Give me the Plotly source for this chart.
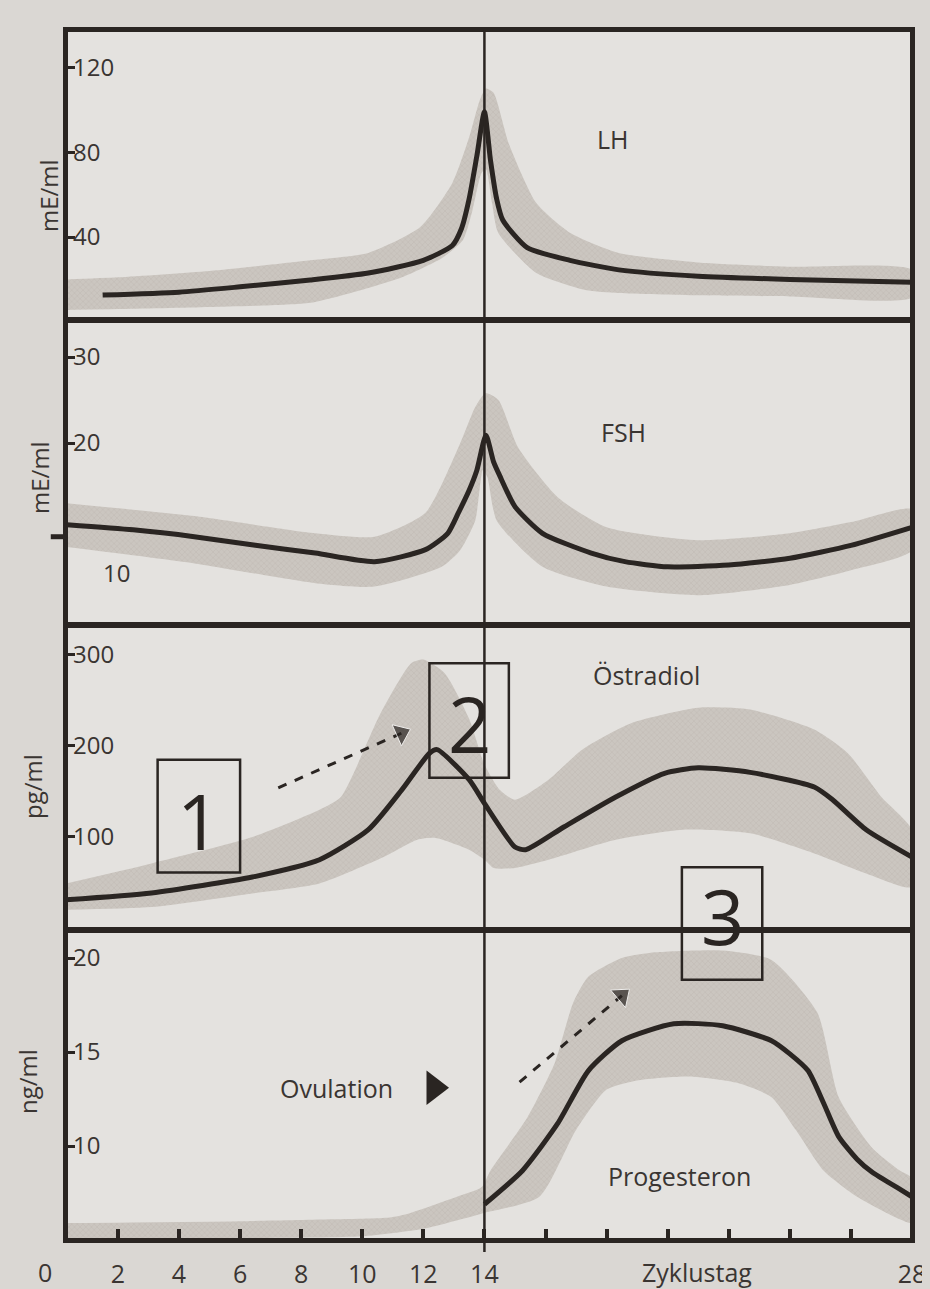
import plotly.graph_objects as go
from plotly.subplots import make_subplots

# ---------------- data (cycle day, hormone level) ----------------
# LH (mE/ml)
lh_days = [1.5, 4, 6, 8.3, 10.2, 12, 12.95, 13.25, 13.5, 13.75, 14.0, 14.2, 14.4, 14.6, 15.4, 16.8, 18.4, 21, 24, 28]
lh_vals = [12.6, 14, 16.5, 19.7, 23, 29, 36, 44, 58, 78, 99, 76, 58, 48, 35, 29, 24.5, 21.5, 20, 18.7]
lh_up_days = [0.3, 2, 5, 8.3, 10.2, 11.9, 12.95, 13.5, 13.85, 14.05, 14.3, 14.8, 15.7, 16.8, 18.4, 21, 24, 28]
lh_up_vals = [20, 21, 24, 29, 32.5, 44.7, 65.5, 87, 104.6, 110, 108, 84, 56, 42, 32.5, 28, 26, 24.5]
lh_lo_days = [0.3, 2, 5, 8.3, 10.2, 11.3, 12.6, 13.3, 13.6, 13.9, 14.05, 14.25, 14.45, 15.7, 17.3, 18.4, 21, 24, 28]
lh_lo_vals = [5.6, 6, 7, 9, 16, 21, 30, 38.6, 52, 70, 72, 56, 42, 23, 15, 13.6, 12.5, 12, 11.5]

# FSH (mE/ml)
fsh_days = [0.33, 2.5, 4.5, 6.5, 8.46, 10.4, 12.07, 12.8, 13.15, 13.5, 13.75, 14.05, 14.3, 14.5, 15.0, 15.9, 17.5, 18.6, 20, 22, 24, 26, 28]
fsh_vals = [10.5, 9.9, 9.1, 8.1, 7.2, 6.2, 7.6, 9.5, 11.9, 14.5, 16.8, 20.9, 17.8, 16.2, 12.6, 9.5, 7.2, 6.2, 5.6, 5.8, 6.6, 8.1, 10.2]
fsh_up_days = [0.33, 4.5, 8.46, 10.4, 12.07, 13.15, 13.7, 14.03, 14.46, 15.1, 16.4, 18, 21, 24, 26, 28]
fsh_up_vals = [13, 11.5, 9.5, 9.1, 11.9, 19.5, 24.2, 25.8, 25, 19.5, 13.7, 10.2, 8.7, 9.5, 10.8, 12.3]
fsh_lo_days = [0.33, 4.5, 8.46, 10.4, 12.6, 13.2, 13.7, 13.95, 14.1, 14.4, 15.9, 18, 21, 24, 26, 28]
fsh_lo_vals = [7.9, 6, 3.7, 3.3, 5.6, 7.5, 11, 16.9, 16, 11, 5.6, 3.3, 2.3, 3.5, 5.2, 7.5]

# Östradiol (pg/ml)
e2_days = [0.3, 3.1, 6.4, 8.6, 10.2, 11.3, 12.2, 12.45, 13.5, 14.0, 15.0, 15.35, 16.6, 18.3, 19.9, 21.0, 22.7, 24.8, 25.4, 26.5, 28]
e2_vals = [31, 38.5, 56, 75, 108, 152, 192, 196, 163, 137, 89, 86, 111, 144, 170, 176, 171, 155, 141, 108, 78]
e2_up_days = [0.3, 3.1, 6.4, 8.6, 9.3, 10.6, 11.6, 12.0, 12.7, 13.5, 14.0, 14.5, 15.0, 16.1, 17.2, 18.8, 21.0, 22.7, 24.8, 25.9, 27.0, 28]
e2_up_vals = [49, 71, 100, 130, 144, 236, 291, 295, 280, 230, 180, 152, 141, 163, 196, 225, 242, 240, 218, 192, 144, 108]
e2_lo_days = [0.3, 3.1, 6.4, 8.6, 10.7, 11.8, 12.4, 13.5, 14.0, 14.3, 15.0, 16.1, 18.3, 20.5, 22.7, 24.8, 26.5, 28]
e2_lo_vals = [20, 23, 38, 49, 78, 97, 99, 86, 75, 66, 66, 75, 97, 108, 104, 82, 60, 45]

# Progesteron (ng/ml)
p_days = [14.0, 15.25, 16.4, 17.4, 18.5, 20.2, 21.8, 23.4, 24.0, 24.6, 25.1, 25.6, 26.2, 26.7, 27.6, 28]
p_vals = [6.9, 8.7, 11.2, 14.0, 15.6, 16.5, 16.4, 15.6, 14.9, 14.0, 12.3, 10.5, 9.3, 8.6, 7.7, 7.3]
p_up_days = [0.3, 6, 9, 10.9, 11.5, 13.1, 13.9, 14.2, 15.4, 16.3, 16.9, 17.4, 18.5, 19.6, 21.8, 23.4, 24.9, 25.6, 26.7, 27.6, 28]
p_up_vals = [5.9, 6.0, 6.1, 6.2, 6.4, 7.3, 7.8, 8.7, 11.5, 14.4, 17.6, 19.0, 20.0, 20.3, 20.4, 19.9, 17.1, 12.6, 9.9, 8.7, 8.3]
p_lo_days = [0.3, 6, 10, 12, 13.9, 15.8, 17.0, 18.0, 19.05, 20.7, 22.3, 23.4, 24.2, 25.1, 26.2, 27.6, 28]
p_lo_vals = [5.05, 5.1, 5.2, 5.6, 6.4, 7.3, 10.85, 13.0, 13.5, 13.7, 13.35, 12.6, 10.85, 8.7, 7.3, 6.1, 5.9]

# axis ticks
lh_ticks = [40, 80, 120]
fsh_ticks = [20, 30]
e2_ticks = [100, 200, 300]
p_ticks = [10, 15, 20]
x_tickvals = [2, 4, 6, 8, 10, 12, 14, 16, 18, 20, 22, 24, 26, 28]
x_ticktext = ["2", "4", "6", "8", "10", "12", "14", "", "", "", "", "", "", "28"]

# ---------------- style ----------------
INK = "#2a2522"
TXT = "#3a3532"
BAND = "#cbc6c0"
HATCH = "#b3ada6"
PAPER = "#dad7d3"
PLOT = "#e4e2df"
FONT = "Open Sans"

fig = make_subplots(rows=4, cols=1, vertical_spacing=0)

panels = [
    (lh_days, lh_vals, lh_up_days, lh_up_vals, lh_lo_days, lh_lo_vals),
    (fsh_days, fsh_vals, fsh_up_days, fsh_up_vals, fsh_lo_days, fsh_lo_vals),
    (e2_days, e2_vals, e2_up_days, e2_up_vals, e2_lo_days, e2_lo_vals),
    (p_days, p_vals, p_up_days, p_up_vals, p_lo_days, p_lo_vals),
]
for i, (d, v, ud, uv, ld, lv) in enumerate(panels, start=1):
    fig.add_trace(go.Scatter(
        x=ud + ld[::-1], y=uv + lv[::-1], mode="lines", fill="toself",
        fillcolor=BAND, line=dict(width=0, shape="spline", smoothing=0.6),
        fillpattern=dict(shape="x", bgcolor=BAND, fgcolor=HATCH, size=4, solidity=0.25),
        hoverinfo="skip", showlegend=False), row=i, col=1)
    fig.add_trace(go.Scatter(
        x=d, y=v, mode="lines", line=dict(color=INK, width=5, shape="spline", smoothing=0.6),
        hoverinfo="skip", showlegend=False), row=i, col=1)

# dashed arrows
arrow1_x = [7.25, 11.28]
arrow1_y = [154, 214]
arrow2_x = [15.15, 18.5]
arrow2_y = [13.4, 18.0]
for (ax_, ay_, r) in [(arrow1_x, arrow1_y, 3), (arrow2_x, arrow2_y, 4)]:
    fig.add_trace(go.Scatter(
        x=ax_, y=ay_, mode="lines+markers",
        line=dict(color=INK, width=3, dash="dash"),
        marker=dict(symbol=["circle", "triangle-up"], size=[0, 20], color=INK,
                    angleref="previous"),
        hoverinfo="skip", showlegend=False), row=r, col=1)

# ovulation marker
fig.add_trace(go.Scatter(x=[12.35], y=[13.1], mode="markers",
                         marker=dict(symbol="triangle-right", size=30, color=INK),
                         hoverinfo="skip", showlegend=False), row=4, col=1)

domains = [[0.7603, 1.0], [0.5083, 0.7603], [0.2562, 0.5083], [0.0, 0.2562]]
yranges = [[0.85, 137.6], [-1.16, 34.3], [-2.2, 333], [5.0, 21.49]]
yticks = [lh_ticks, fsh_ticks, e2_ticks, p_ticks]

for i in range(1, 5):
    fig.update_yaxes(row=i, col=1, domain=domains[i - 1], range=yranges[i - 1],
                     tickvals=yticks[i - 1], ticks="inside", ticklen=9, tickwidth=3,
                     tickcolor=INK, ticklabelposition="inside", automargin=False,
                     tickfont=dict(family=FONT, size=24, color=TXT),
                     showline=True, mirror=True, linewidth=2.5, linecolor=INK,
                     showgrid=False, zeroline=False)
    fig.update_xaxes(row=i, col=1, range=[0.3, 28], showline=True, mirror=True,
                     linewidth=2.5, linecolor=INK, showgrid=False, zeroline=False,
                     automargin=False,
                     showticklabels=(i == 4), ticks=("inside" if i == 4 else ""),
                     tickvals=x_tickvals, ticktext=x_ticktext, ticklen=11, tickwidth=4,
                     tickcolor=INK, ticklabelstandoff=10,
                     tickfont=dict(family=FONT, size=25, color=TXT))

shapes = []
# outer frame
shapes.append(dict(type="rect", xref="paper", yref="paper", x0=0, x1=1, y0=0, y1=1,
                   line=dict(color=INK, width=4), layer="above"))
# ovulation day line through all panels
shapes.append(dict(type="line", xref="x4", yref="paper", x0=14, x1=14, y0=-0.01, y1=1.0,
                   line=dict(color=INK, width=2.5)))
# FSH outer tick at 10
shapes.append(dict(type="line", xref="paper", yref="y2", x0=-0.018, x1=0.0, y0=9.1, y1=9.1,
                   line=dict(color=INK, width=5)))
# numbered boxes
shapes.append(dict(type="rect", xref="x3", yref="y3", x0=3.3, x1=6.0, y0=61, y1=185,
                   line=dict(color=INK, width=2.5)))
shapes.append(dict(type="rect", xref="x3", yref="y3", x0=12.2, x1=14.8, y0=165, y1=291,
                   line=dict(color=INK, width=2.5)))
shapes.append(dict(type="rect", xref="paper", yref="paper", x0=0.728, x1=0.823, y0=0.215, y1=0.308,
                   line=dict(color=INK, width=2.5)))
fig.update_layout(shapes=shapes)

ann = []
def txt(x, y, s, xref, yref, size=25, **kw):
    ann.append(dict(x=x, y=y, text=s, xref=xref, yref=yref, showarrow=False,
                    xanchor="center", yanchor="middle",
                    font=dict(family=FONT, size=size, color=kw.pop("color", TXT)), **kw))

txt(18.2, 86, "LH", "x1", "y1")
txt(18.55, 21.3, "FSH", "x2", "y2")
txt(19.3, 278, "Östradiol", "x3", "y3")
txt(20.4, 8.4, "Progesteron", "x4", "y4")
txt(9.15, 13.1, "Ovulation", "x4", "y4")
txt(4.65, 118, "1", "x3", "y3", size=76, color=INK)
txt(13.5, 225, "2", "x3", "y3", size=76, color=INK)
txt(0.7755, 0.268, "3", "paper", "paper", size=76, color=INK)
txt(0.060, 4.9, "10", "paper", "y2", size=24)
txt(-0.0248, -0.0264, "0", "paper", "paper")
txt(0.746, -0.0264, "Zyklustag", "paper", "paper")
for (x, y, s) in [(-0.0213, 0.8636, "mE/ml"), (-0.0307, 0.6298, "mE/ml"),
                  (-0.039, 0.3744, "pg/ml"), (-0.0449, 0.1306, "ng/ml")]:
    txt(x, y, s, "paper", "paper", size=24, textangle=-90)
fig.update_layout(annotations=ann)

# the page body adds an 8px offset, so the figure is sized to fit the window
fig.update_layout(width=922, height=1281, margin=dict(l=58, r=18, t=22, b=49),
                  paper_bgcolor=PAPER, plot_bgcolor=PLOT, showlegend=False,
                  font=dict(family=FONT, color=TXT))

fig.write_html("out.html", post_script="document.body.style.background='%s';" % PAPER)
